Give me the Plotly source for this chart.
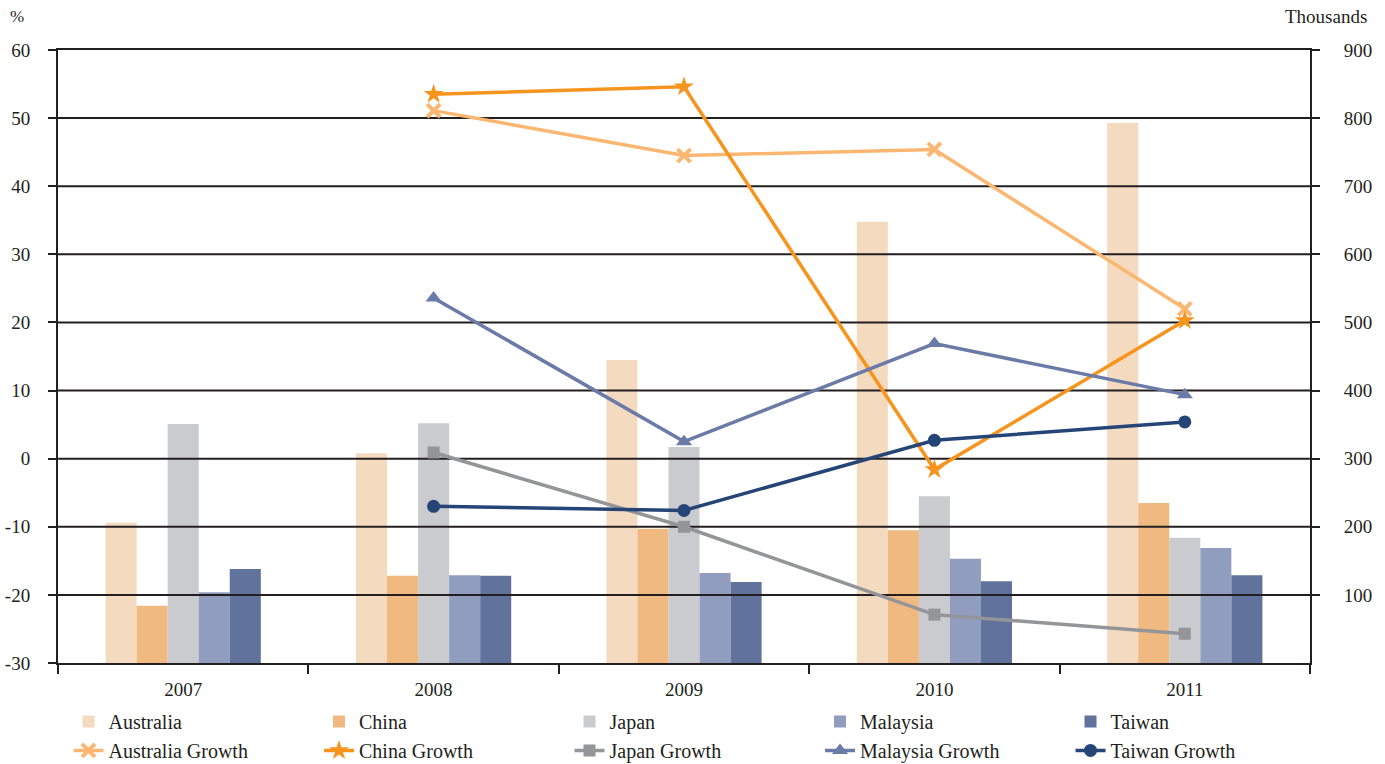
import plotly.graph_objects as go

# Visitor numbers (thousands) and annual growth (%) by source market
years = ["2007", "2008", "2009", "2010", "2011"]

australia = [206, 308, 445, 648, 793]
china = [84, 128, 197, 195, 235]
japan = [351, 352, 317, 245, 184]
malaysia = [104, 129, 132, 153, 169]
taiwan = [138, 128, 119, 120, 129]

australia_growth = [None, 51.1, 44.5, 45.4, 22.0]
china_growth = [None, 53.5, 54.6, -1.6, 20.3]
japan_growth = [None, 0.9, -10.0, -22.9, -25.7]
malaysia_growth = [None, 23.6, 2.5, 16.9, 9.4]
taiwan_growth = [None, -7.0, -7.6, 2.7, 5.4]

pct_ticks = [-30, -20, -10, 0, 10, 20, 30, 40, 50, 60]
thousand_ticks = [100, 200, 300, 400, 500, 600, 700, 800, 900]

INK = "#231f20"
FONT = "Liberation Serif"

xpos = list(range(len(years)))
bounds = [i - 0.5 for i in range(len(years) + 1)]

fig = go.Figure()

bar_series = [
    ("Australia", australia, "#f4dbbf"),
    ("China", china, "#f0b97f"),
    ("Japan", japan, "#cacbce"),
    ("Malaysia", malaysia, "#909dbe"),
    ("Taiwan", taiwan, "#61729c"),
]
for name, vals, col in bar_series:
    fig.add_trace(go.Bar(
        x=xpos, y=vals, name=name, marker=dict(color=col, line=dict(width=0)),
        xaxis="x", yaxis="y",
    ))

# horizontal rules drawn over the bars but beneath the growth lines
gx, gy = [], []
for t in thousand_ticks[:-1]:
    gx += [bounds[0], bounds[-1], None]
    gy += [t, t, None]
fig.add_trace(go.Scatter(
    x=gx, y=gy, mode="lines", line=dict(color=INK, width=2),
    hoverinfo="skip", showlegend=False, xaxis="x", yaxis="y",
))

line_series = [
    ("Australia Growth", australia_growth, "#fbb772", "x-thin", 13),
    ("China Growth", china_growth, "#f7941d", "star", 15),
    ("Japan Growth", japan_growth, "#939598", "square", 12),
    ("Malaysia Growth", malaysia_growth, "#6b7ba8", "triangle-up", 14),
    ("Taiwan Growth", taiwan_growth, "#254577", "circle", 13),
]
for name, vals, col, sym, size in line_series:
    marker = dict(color=col, symbol=sym, size=size)
    if sym == "x-thin":
        marker["line"] = dict(color=col, width=4)
    fig.add_trace(go.Scatter(
        x=xpos, y=vals, name=name, mode="lines+markers",
        line=dict(color=col, width=3.5), marker=marker,
        xaxis="x", yaxis="y2", cliponaxis=False,
    ))

axis_font = dict(family=FONT, size=19, color=INK)

fig.update_layout(
    width=1385, height=764,
    margin=dict(l=58, r=75, t=50, b=101, autoexpand=False),
    paper_bgcolor="white", plot_bgcolor="white",
    font=dict(family=FONT, size=19, color=INK),
    barmode="group", bargap=0.38, bargroupgap=0,
    showlegend=True,
    legend=dict(
        orientation="h", x=0.0084, xanchor="left", y=-0.0635, yanchor="top",
        entrywidth=205.5, entrywidthmode="pixels",
        font=dict(family=FONT, size=20, color=INK),
        traceorder="normal", itemwidth=30,
        bgcolor="rgba(0,0,0,0)",
    ),
    xaxis=dict(
        range=[bounds[0], bounds[-1]], tickvals=xpos, ticktext=years,
        ticks="", showgrid=False, zeroline=False, automargin=False,
        showline=True, linecolor=INK, linewidth=2, mirror=True,
        tickfont=axis_font, ticklabelstandoff=8,
        minor=dict(tickvals=bounds, ticks="outside", ticklen=9,
                   tickwidth=2, tickcolor=INK, showgrid=False),
    ),
    yaxis=dict(
        side="right", range=[0, 900], tickvals=thousand_ticks,
        ticks="outside", ticklen=8, tickwidth=2, tickcolor=INK,
        showgrid=False, zeroline=False, automargin=False,
        showline=True, linecolor=INK, linewidth=2,
        tickfont=axis_font, ticklabelstandoff=20,
    ),
    yaxis2=dict(
        overlaying="y", side="left", range=[-30, 60], tickvals=pct_ticks,
        ticktext=[str(v) for v in pct_ticks],
        ticks="outside", ticklen=8, tickwidth=2, tickcolor=INK,
        showgrid=False, zeroline=False, automargin=False,
        showline=True, linecolor=INK, linewidth=2,
        tickfont=axis_font, ticklabelstandoff=14,
    ),
    annotations=[
        dict(text="%", xref="paper", yref="paper", x=-0.033, y=1.0,
             yshift=34, xanchor="center", yanchor="middle", showarrow=False,
             font=dict(family=FONT, size=17, color=INK)),
        dict(text="Thousands", xref="paper", yref="paper", x=1.0, y=1.0,
             xshift=59, yshift=34, xanchor="right", yanchor="middle",
             showarrow=False, font=dict(family=FONT, size=19, color=INK)),
    ],
)

fig.write_html("out.html")
